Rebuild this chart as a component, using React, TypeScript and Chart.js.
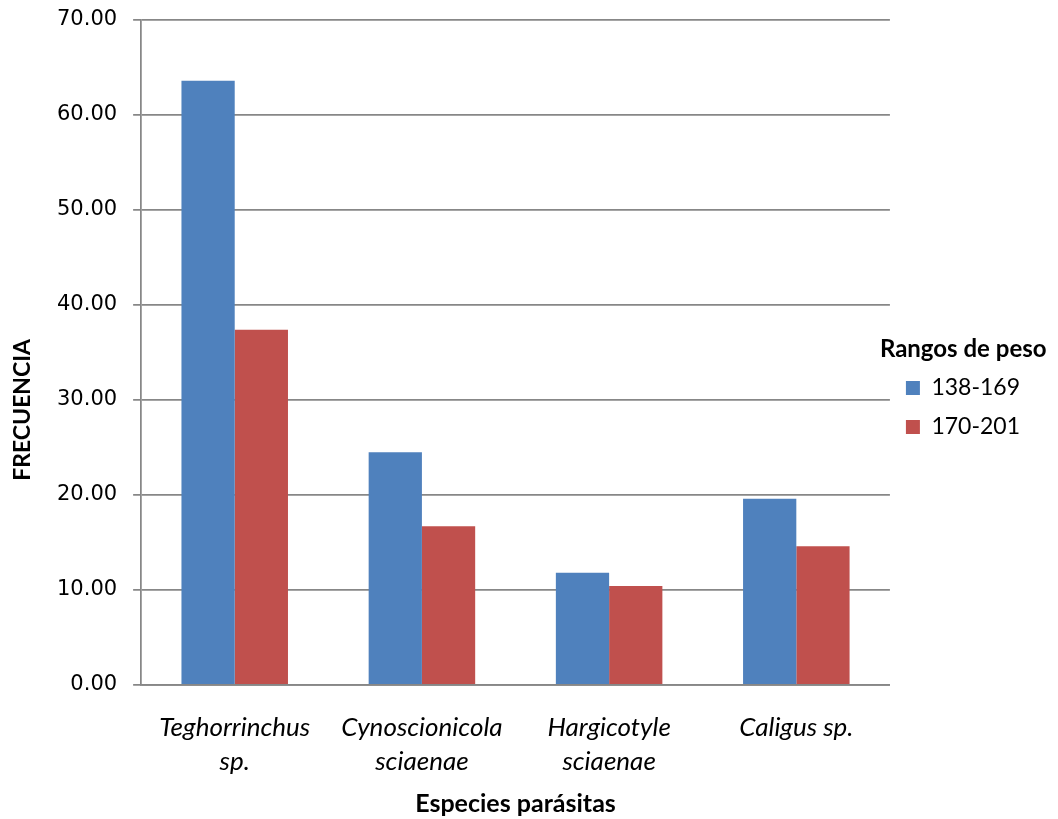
import React, { useEffect, useRef } from "react";
import { Chart, registerables } from "chart.js";

Chart.register(...registerables);

const categories: string[][] = [
  ["Teghorrinchus", "sp."],
  ["Cynoscionicola", "sciaenae"],
  ["Hargicotyle", "sciaenae"],
  ["Caligus sp."],
];
const seriesNames = ["138-169", "170-201"];
const series1 = [63.6, 24.5, 11.8, 19.6];
const series2 = [37.4, 16.7, 10.4, 14.6];
const colors = ["#4F81BD", "#C0504D"];
const yTitle = "FRECUENCIA";
const xTitle = "Especies parásitas";
const legendTitle = "Rangos de peso";

const textPlugin = {
  id: "extraTexts",
  afterDraw(chart: any) {
    const ctx = chart.ctx;
    const lg = chart.legend;
    ctx.save();
    ctx.fillStyle = "#000";
    if (lg && lg.legendHitBoxes && lg.legendHitBoxes.length) {
      const hb = lg.legendHitBoxes[0];
      ctx.font = "bold 24px Lato";
      ctx.textAlign = "left";
      ctx.textBaseline = "middle";
      ctx.fillText(legendTitle, hb.left - 26, hb.top + hb.height / 2 - 39);
    }
    const area = chart.chartArea;
    ctx.translate(14.5, area.bottom - 275);
    ctx.rotate(-Math.PI / 2);
    ctx.font = "bold 23px Lato";
    ctx.textAlign = "center";
    ctx.textBaseline = "middle";
    ctx.fillText(yTitle, 0, 0);
    ctx.restore();
  },
};

export default function App() {
  const ref = useRef<HTMLCanvasElement>(null);
  useEffect(() => {
    if (!ref.current) return;
    const chart = new Chart(ref.current, {
      type: "bar",
      data: {
        labels: categories,
        datasets: [
          { label: seriesNames[0], data: series1, backgroundColor: colors[0] },
          { label: seriesNames[1], data: series2, backgroundColor: colors[1] },
        ],
      },
      plugins: [textPlugin],
      options: {
        animation: false,
        responsive: true,
        maintainAspectRatio: false,
        layout: { padding: { top: 0, right: 20, bottom: 12, left: 0 } },
        datasets: { bar: { categoryPercentage: 0.569, barPercentage: 1 } },
        scales: {
          x: {
            grid: { display: false, drawTicks: false },
            border: { display: true, color: "#878787", width: 1.75 },
            ticks: {
              color: "#000",
              font: { family: "Lato", size: 26, style: "italic", lineHeight: 1.31 },
              padding: 26,
              maxRotation: 0,
              autoSkip: false,
            },
            title: {
              display: true,
              text: xTitle,
              color: "#000",
              font: { family: "Lato", size: 25, weight: "bold", lineHeight: 1.2 },
              padding: { top: -16, bottom: -12 },
            },
          },
          y: {
            min: 0,
            max: 70,
            afterFit: (scale: any) => {
              scale.paddingTop = 12;
              scale.width += 33;
            },
            ticks: {
              stepSize: 10,
              color: "#000",
              font: { family: "DejaVu Sans", size: 21 },
              padding: 16,
              callback: (v: any) => Number(v).toFixed(2),
            },
            grid: { color: "#878787", lineWidth: 1.75, tickLength: 8 },
            border: { display: true, color: "#878787", width: 1.75 },
            title: { display: false },
          },
        },
        plugins: {
          legend: {
            position: "right",
            labels: {
              color: "#000",
              font: { family: "Lato", size: 23 },
              boxWidth: 14,
              boxHeight: 14,
              padding: 16,
            },
          },
          tooltip: { enabled: false },
        },
      },
    });
    return () => chart.destroy();
  }, []);
  return (
    <div style={{ width: 1042, height: 811, position: "relative" }}>
      <canvas ref={ref} />
    </div>
  );
}
